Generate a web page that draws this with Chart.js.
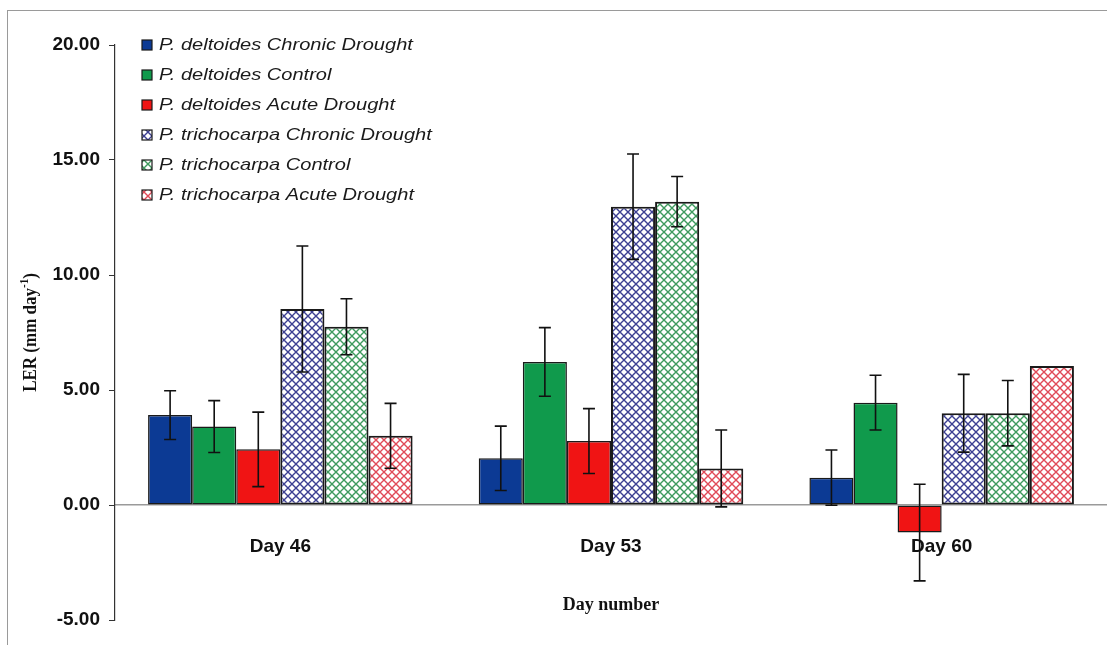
<!DOCTYPE html>
<html>
<head>
<meta charset="utf-8">
<script src="https://cdn.jsdelivr.net/npm/chart.js@4.4.1/dist/chart.umd.min.js"></script>
<style>
  html, body { margin: 0; padding: 0; background: #ffffff; }
  #wrap { position: relative; width: 1107px; height: 645px; overflow: hidden; }
  #frame { position: absolute; left: 7px; top: 10px; width: 1110px; height: 650px;
           border-top: 1.5px solid #9a9a9a; border-left: 1.5px solid #9a9a9a; }
  #c { position: absolute; left: 0; top: 0; }
</style>
</head>
<body>
<div id="wrap">
  <div id="frame"></div>
  <canvas id="c" width="1107" height="645"></canvas>
</div>
<script>
// Leaf elongation rate by day and treatment
const categories = ['Day 46', 'Day 53', 'Day 60'];
const yTicks = [-5, 0, 5, 10, 15, 20];

const pdChronic     = [3.91, 2.03, 1.19];
const pdChronicErr  = [1.06, 1.40, 1.20];
const pdControl     = [3.41, 6.22, 4.45];
const pdControlErr  = [1.13, 1.49, 1.19];
const pdAcute       = [2.42, 2.78, -1.20];
const pdAcuteErr    = [1.62, 1.41, 2.10];
const ptChronic     = [8.52, 12.97, 3.99];
const ptChronicErr  = [2.74, 2.29, 1.69];
const ptControl     = [7.75, 13.19, 3.99];
const ptControlErr  = [1.22, 1.09, 1.42];
const ptAcute       = [3.01, 1.59, 6.04];
const ptAcuteErr    = [1.41, 1.67, null];

// Diagonal cross-hatch fill on white
function crossHatch(color) {
  const s = 8;
  const t = document.createElement('canvas');
  t.width = s; t.height = s;
  const g = t.getContext('2d');
  g.fillStyle = '#ffffff';
  g.fillRect(0, 0, s, s);
  g.strokeStyle = color;
  g.lineWidth = 1.4;
  g.beginPath();
  g.moveTo(-1, -1); g.lineTo(s + 1, s + 1);
  g.moveTo(s + 1, -1); g.lineTo(-1, s + 1);
  g.stroke();
  return document.getElementById('c').getContext('2d').createPattern(t, 'repeat');
}

const series = [
  { label: 'P. deltoides Chronic Drought',   data: pdChronic, err: pdChronicErr, fill: '#0c3a94', hatch: false },
  { label: 'P. deltoides Control',           data: pdControl, err: pdControlErr, fill: '#109a4c', hatch: false },
  { label: 'P. deltoides Acute Drought',     data: pdAcute,   err: pdAcuteErr,   fill: '#f01414', hatch: false },
  { label: 'P. trichocarpa Chronic Drought', data: ptChronic, err: ptChronicErr, fill: '#3c3f92', hatch: true },
  { label: 'P. trichocarpa Control',         data: ptControl, err: ptControlErr, fill: '#3e9a5e', hatch: true },
  { label: 'P. trichocarpa Acute Drought',   data: ptAcute,   err: ptAcuteErr,   fill: '#e04a58', hatch: true }
];

const datasets = series.map(s => ({
  label: s.label,
  data: s.data,
  errors: s.err,
  swatch: s.fill,
  hatched: s.hatch,
  backgroundColor: s.hatch ? crossHatch(s.fill) : s.fill,
  borderColor: '#1a1a1a',
  borderWidth: s.hatch ? 2 : 1.5,
  borderSkipped: false,
  categoryPercentage: 0.8,
  barPercentage: 1.0
}));

// Symmetric error bars with caps at both ends
const errorBars = {
  id: 'errorBars',
  afterDatasetsDraw(chart) {
    const ctx = chart.ctx;
    const y = chart.scales.y;
    ctx.save();
    ctx.strokeStyle = '#111111';
    ctx.lineWidth = 1.6;
    chart.data.datasets.forEach((ds, i) => {
      const meta = chart.getDatasetMeta(i);
      meta.data.forEach((bar, j) => {
        const e = ds.errors[j];
        if (e == null) return;
        const v = ds.data[j];
        const top = y.getPixelForValue(v + e);
        const bot = y.getPixelForValue(v - e);
        const x = bar.x, cap = 6;
        ctx.beginPath();
        ctx.moveTo(x, top); ctx.lineTo(x, bot);
        ctx.moveTo(x - cap, top); ctx.lineTo(x + cap, top);
        ctx.moveTo(x - cap, bot); ctx.lineTo(x + cap, bot);
        ctx.stroke();
      });
    });
    ctx.restore();
  }
};

// Vertical legend in the upper-left of the plot
const insetLegend = {
  id: 'insetLegend',
  afterDraw(chart) {
    const ctx = chart.ctx;
    const x0 = 142, y0 = 45, step = 30, box = 10;
    ctx.save();
    ctx.textBaseline = 'middle';
    chart.data.datasets.forEach((ds, i) => {
      const cy = y0 + i * step;
      ctx.fillStyle = ds.hatched ? ds.backgroundColor : ds.swatch;
      ctx.fillRect(x0, cy - box / 2, box, box);
      ctx.strokeStyle = '#1a1a1a';
      ctx.lineWidth = 1.2;
      ctx.strokeRect(x0, cy - box / 2, box, box);
      ctx.save();
      ctx.translate(x0 + 17, cy);
      ctx.scale(1.18, 1);
      ctx.font = 'italic 17px "Liberation Sans", Arial, sans-serif';
      ctx.fillStyle = '#1a1a1a';
      ctx.fillText(ds.label, 0, 0);
      ctx.restore();
    });
    ctx.restore();
  }
};

// Rotated y-axis title with a superscript exponent
const yTitle = {
  id: 'yTitle',
  afterDraw(chart) {
    const ctx = chart.ctx;
    const area = chart.chartArea;
    const main = 'bold 17px "Liberation Serif", "Times New Roman", serif';
    const sup = 'bold 11px "Liberation Serif", "Times New Roman", serif';
    const parts = [['LER (mm day', main, 0], ['-1', sup, -6], [')', main, 0]];
    ctx.save();
    ctx.translate(31, (area.top + area.bottom) / 2);
    ctx.rotate(-Math.PI / 2);
    ctx.scale(1.0, 1.1);
    ctx.fillStyle = '#111111';
    ctx.textBaseline = 'middle';
    let total = 0;
    parts.forEach(p => { ctx.font = p[1]; total += ctx.measureText(p[0]).width; });
    let x = -total / 2;
    parts.forEach(p => {
      ctx.font = p[1];
      ctx.fillText(p[0], x, p[2]);
      x += ctx.measureText(p[0]).width;
    });
    ctx.restore();
  }
};

new Chart(document.getElementById('c'), {
  type: 'bar',
  data: { labels: categories, datasets },
  plugins: [errorBars, insetLegend, yTitle],
  options: {
    responsive: false,
    animation: false,
    layout: { padding: { top: 45, bottom: 25, left: 0, right: 0 } },
    plugins: { legend: { display: false }, tooltip: { enabled: false } },
    scales: {
      x: {
        position: { y: 0 },
        offset: true,
        grid: { display: false, drawTicks: false },
        border: { display: true, color: '#9a9a9a', width: 1.5 },
        ticks: {
          padding: 30,
          color: '#111111',
          font: { family: '"Liberation Sans", Arial, sans-serif', size: 19, weight: 'bold' }
        },
        title: {
          display: true,
          text: 'Day number',
          color: '#111111',
          padding: { top: 7, bottom: 0 },
          font: { family: '"Liberation Serif", "Times New Roman", serif', size: 18, weight: 'bold' }
        }
      },
      y: {
        min: -5,
        max: 20,
        afterFit(scale) { scale.width = 115; },
        afterBuildTicks(scale) { scale.ticks = yTicks.map(v => ({ value: v })); },
        grid: { drawOnChartArea: false, drawTicks: true, tickLength: 6, color: '#333333' },
        border: { display: true, color: '#333333', width: 1.2 },
        ticks: {
          padding: 9,
          color: '#111111',
          font: { family: '"Liberation Sans", Arial, sans-serif', size: 19, weight: 'bold' },
          callback: v => Number(v).toFixed(2)
        }
      }
    }
  }
});
</script>
</body>
</html>
